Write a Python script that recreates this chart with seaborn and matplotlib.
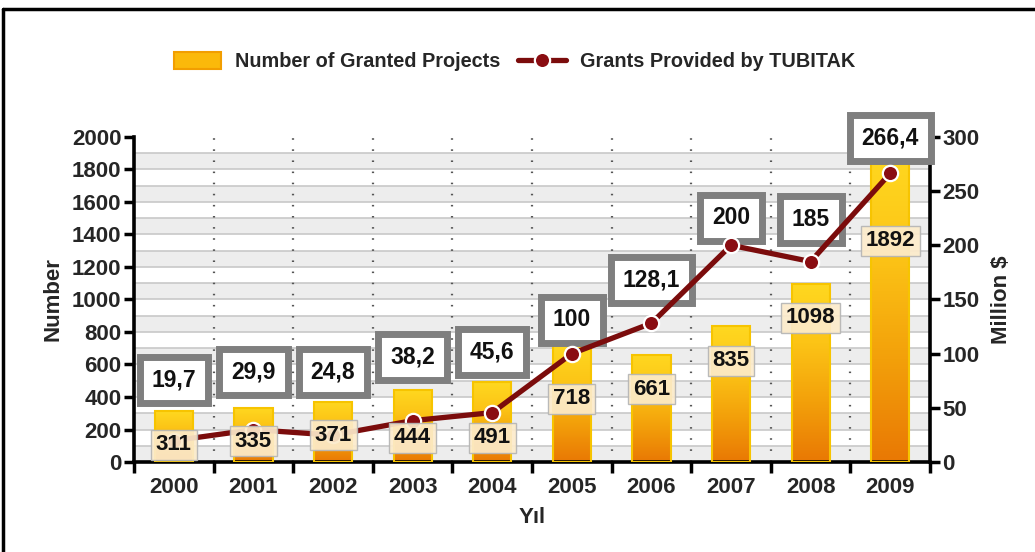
import numpy as np
import pandas as pd
import matplotlib
matplotlib.use("Agg")
import matplotlib.pyplot as plt
import seaborn as sns
from matplotlib.colors import LinearSegmentedColormap
from matplotlib.lines import Line2D
from matplotlib.patches import Patch

# --- data -------------------------------------------------------------
years = ["2000", "2001", "2002", "2003", "2004",
         "2005", "2006", "2007", "2008", "2009"]
projects = [311, 335, 371, 444, 491, 718, 661, 835, 1098, 1892]      # count
grants = [19.7, 29.9, 24.8, 38.2, 45.6, 100, 128.1, 200, 185, 266.4]  # million $

# --- label placement (in each axis' own units) ------------------------
project_label_y = [105, 129, 166, 148, 148, 388, 449, 622, 886, 1360]
grant_label_y = [75.7, 83.1, 83.1, 96.9, 101.5, 131.1, 168, 225.2, 223.4, 299]

sns.set_theme(style="white")
plt.rcParams["font.family"] = ["Liberation Sans", "DejaVu Sans"]
plt.rcParams["font.weight"] = "bold"
plt.rcParams["axes.labelweight"] = "bold"

TICK_FS = 16
LABEL_FS = 16

df = pd.DataFrame({"year": years, "projects": projects, "grants": grants})

fig = plt.figure(figsize=(10.35, 5.52), dpi=100)
ax = fig.add_axes([0.1295, 0.163, 0.7691, 0.589])
ax.set_facecolor("white")
ax2 = ax.twinx()

# striped background with fine grid and dotted category separators
for lo in range(0, 2000, 200):
    ax.axhspan(lo, lo + 100, color="#ededed", lw=0, zorder=0)
for yv in range(100, 2000, 100):
    ax.axhline(yv, color="#c8c8c8", lw=1.2, zorder=0.5)
for xv in np.arange(0.5, 9, 1):
    ax.axvline(xv, color="#555555", lw=1.6, ls=(0, (0.7, 4.3)), zorder=0.6)

# bars with a vertical yellow-to-orange gradient
sns.barplot(data=df, x="year", y="projects", ax=ax, width=0.48,
            color="#f5a700", saturation=1, zorder=2)
bar_cmap = LinearSegmentedColormap.from_list(
    "bar", ["#e97804", "#f3a00a", "#fcc416", "#ffd820"])
grad = np.linspace(0, 1, 256).reshape(-1, 1)
for p in ax.containers[-1]:
    x0, w, h = p.get_x(), p.get_width(), p.get_height()
    im = ax.imshow(grad, extent=[x0, x0 + w, 0, h], origin="lower",
                   aspect="auto", cmap=bar_cmap, zorder=2.5)
    im.set_clip_path(p)
    p.set_facecolor("none")
    p.set_edgecolor("#f7c400")
    p.set_linewidth(1.5)
    p.set_zorder(3)

# grants line on the secondary axis
line_color = "#7b0c0c"
sns.lineplot(data=df, x="year", y="grants", ax=ax2, color=line_color,
             lw=3.8, marker="o", markersize=11, markerfacecolor="#8a0d12",
             markeredgecolor="white", markeredgewidth=1.6, sort=False,
             zorder=4)


def comma(v):
    return f"{v:g}".replace(".", ",")


for i, (v, ly) in enumerate(zip(grants, grant_label_y)):
    ax2.text(i, ly, comma(v), ha="center", va="center", fontsize=16.5,
             fontweight="bold", color="#111111", zorder=3,
             bbox=dict(boxstyle="square,pad=0.52", fc="white",
                       ec="#7f7f7f", lw=5))

for i, (v, ly) in enumerate(zip(projects, project_label_y)):
    ax2.text(i, ly, str(v), transform=ax.transData, ha="center",
             va="center", fontsize=16, fontweight="bold",
             color="#111111", zorder=6,
             bbox=dict(boxstyle="square,pad=0.22", fc="#fcebcb",
                       ec="#b5b5b5", lw=1, alpha=0.92))

# axes, ticks and spines
ax.set_xlim(-0.5, 9.5)
ax.set_ylim(0, 2000)
ax2.set_ylim(0, 300)
ax.set_yticks(range(0, 2001, 200))
ax2.set_yticks(range(0, 301, 50))
ax.set_xticks(range(len(years)))
ax.set_xticklabels(years)
ax.set_xticks(np.arange(-0.5, 10, 1), minor=True)

ax.tick_params(axis="y", direction="out", length=7, width=2.5,
               labelsize=TICK_FS, color="black", pad=2, left=True)
ax2.tick_params(axis="y", direction="out", length=7, width=2.5,
                labelsize=TICK_FS, color="black", pad=2, right=True)
ax.tick_params(axis="x", which="major", length=0, labelsize=TICK_FS, pad=11)
ax.tick_params(axis="x", which="minor", direction="out", length=8,
               width=2.5, color="black", bottom=True)

for s in ("left", "bottom"):
    ax.spines[s].set_color("black")
    ax.spines[s].set_linewidth(2.6)
ax.spines["top"].set_visible(False)
ax.spines["right"].set_visible(False)
for s in ("top", "left", "bottom"):
    ax2.spines[s].set_visible(False)
ax2.spines["right"].set_color("black")
ax2.spines["right"].set_linewidth(2.6)

ax.set_ylabel("Number", fontsize=LABEL_FS, fontweight="bold", labelpad=6)
ax.set_xlabel("Yıl", fontsize=LABEL_FS, fontweight="bold", labelpad=6)
ax2.set_ylabel("Million $", fontsize=LABEL_FS, fontweight="bold", labelpad=8)

# legend above the plot
handles = [
    Patch(facecolor="#fbb90a", edgecolor="#f29e00", lw=1.5),
    Line2D([], [], color=line_color, lw=3.8, marker="o", markersize=11,
           markerfacecolor="#8a0d12", markeredgecolor="white",
           markeredgewidth=1.6),
]
fig.legend(handles, ["Number of Granted Projects", "Grants Provided by TUBITAK"],
           loc="center", bbox_to_anchor=(0.497, 0.888), ncol=2,
           frameon=False, fontsize=14.3, handlelength=2.4, handleheight=0.9,
           columnspacing=0.9, handletextpad=0.7)

# outer frame (top and left edges)
fig.add_artist(Line2D([0.003, 1.0], [0.984, 0.984], transform=fig.transFigure,
                      color="black", lw=2.5))
fig.add_artist(Line2D([0.003, 0.003], [0.0, 0.984], transform=fig.transFigure,
                      color="black", lw=2.5))

fig.savefig("out.png", dpi=100)
